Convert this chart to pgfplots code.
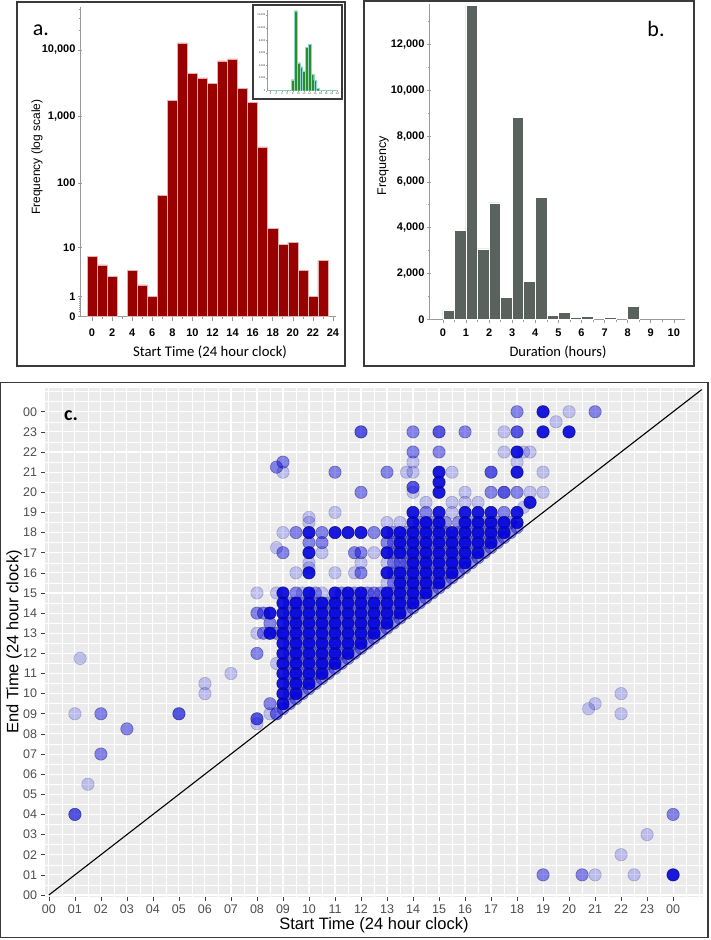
\documentclass[border=0pt]{standalone}
\usepackage{fontspec}
\setmainfont{Liberation Sans}
\newfontfamily\calibri{Carlito}
\usepackage{pgfplots}
\pgfplotsset{compat=1.18}
\usepackage{pgfplotstable}

\definecolor{barred}{HTML}{990000}
\definecolor{bargrey}{HTML}{5A625E}
\definecolor{insetgreen}{HTML}{2E8B2E}
\definecolor{insetedge}{HTML}{8FD8C8}
\definecolor{panelgrey}{HTML}{EBEBEB}
\definecolor{ptblue}{HTML}{0000DD}
\definecolor{ptedge}{HTML}{101060}
\definecolor{ticklab}{HTML}{4D4D4D}
\definecolor{framec}{HTML}{3A3A3A}
\definecolor{axgrey}{HTML}{9A9A9A}

\newcommand{\fs}[1]{\fontsize{#1}{#1}\selectfont}
\pgfplotsset{scaled ticks=false}

% start time histogram (hour 3 has no records)
\pgfplotstableread{
h n
0 7
1 5
2 3
4 4
5 2
6 1
7 65
8 1750
9 12700
10 4450
11 3800
12 3150
13 6850
14 7350
15 2650
16 1650
17 350
18 20
19 11
20 12
21 4
22 1
23 6
}\starttab

% duration histogram (half-hour bins, bin centres)
\pgfplotstableread{
x n
0.25 400
0.75 3870
1.25 13700
1.75 3070
2.25 5080
2.75 970
3.25 8820
3.75 1650
4.25 5330
4.75 170
5.25 290
5.75 70
6.25 110
7.25 80
8.25 560
}\durtab

\begin{document}
\begin{tikzpicture}[x=1pt,y=1pt]
\path[use as bounding box] (0,0) rectangle (710,-940);

% frames
\draw[framec, line width=1.3pt] (17,-2) rectangle (345,-366);
\draw[framec, line width=1.3pt] (364,-1) rectangle (694,-366);
\draw[framec, line width=1.3pt] (0.7,-382.3) rectangle (708,-937.7);

% ---------------- panel a ----------------
\begin{axis}[
  at={(80pt,-7.2pt)}, anchor=north west, scale only axis,
  width=256pt, height=309.5pt,
  xmin=-1.2, xmax=24.3, ymin=0, ymax=4.64,
  axis x line*=bottom, axis y line*=left,
  axis line style={axgrey, line width=0.8pt},
  tick style={axgrey, line width=0.6pt},
  major tick length=4pt, minor tick length=2.5pt,
  xtick align=outside, ytick align=center,
  xtick={0,2,...,24}, minor xtick={1,3,...,23},
  xticklabels={0,2,4,6,8,10,12,14,16,18,20,22,24},
  ytick={0,0.30103,1.04139,2.00432,3.00043,4.00004},
  yticklabels={0,1,10,100,{1,000},{10,000}},
  minor ytick={0.0792,0.1139,0.1461,0.1761,0.2041,0.2304,0.2553,0.2788,4.3010,4.4771,4.6021},
  ticklabel style={font=\bfseries\fs{11pt}, black},
  xticklabel style={yshift=-5pt},
  yticklabel style={xshift=1pt},
]
\addplot[ybar, bar width=1, bar shift=0pt, fill=barred, draw=white!70!barred, line width=0.5pt]
  table[x=h, y expr={log10(\thisrow{n}+1)}] {\starttab};
\end{axis}
\node[rotate=90, font=\fs{12pt}] at (37,-157) {Frequency (log scale)};
\node[font=\calibri\fs{14.7pt}] at (210,-352) {Start Time (24 hour clock)};
\node[font=\calibri\fs{22pt}] at (41,-30) {a.};

% inset
\fill[white] (253,-5) rectangle (342,-99);
\draw[framec, line width=1.2pt] (253,-5) rectangle (342,-99);
\begin{axis}[
  at={(267.3pt,-10pt)}, anchor=north west, scale only axis,
  width=70.9pt, height=80.7pt,
  xmin=-1.2, xmax=24.3, ymin=0, ymax=12800,
  axis x line*=bottom, axis y line*=left,
  x axis line style={insetedge, line width=0.5pt},
  y axis line style={axgrey, line width=0.4pt},
  tick style={axgrey, line width=0.3pt},
  major tick length=1.2pt, tick align=outside,
  xtick={0,2,...,24},
  xticklabels={0,2,4,6,8,10,12,14,16,18,20,22,24},
  ytick={0,2000,...,12000},
  yticklabels={0,{2,000},{4,000},{6,000},{8,000},{10,000},{12,000}},
  ticklabel style={font=\fs{2.6pt}, inner sep=0.6pt, black!80},
]
\addplot[ybar, bar width=1, bar shift=0pt, fill=insetgreen, draw=insetedge, line width=0.25pt]
  table[x=h, y=n] {\starttab};
\end{axis}

% ---------------- panel b ----------------
\begin{axis}[
  at={(429pt,-4.4pt)}, anchor=north west, scale only axis,
  width=256.4pt, height=314.9pt,
  xmin=-0.6, xmax=10.5, ymin=0, ymax=13750,
  axis x line*=bottom, axis y line*=left,
  axis line style={axgrey, line width=0.8pt},
  tick style={axgrey, line width=0.6pt},
  major tick length=4pt, minor tick length=2.5pt,
  xtick align=outside, ytick align=center,
  xtick={0,...,10}, minor xtick={0.5,1.5,...,9.5},
  xticklabels={0,1,2,3,4,5,6,7,8,9,10},
  ytick={0,2000,...,12000},
  yticklabels={0,{2,000},{4,000},{6,000},{8,000},{10,000},{12,000}},
  minor ytick={1000,3000,...,13000},
  ticklabel style={font=\bfseries\fs{11pt}, black},
  xticklabel style={yshift=-2pt},
  yticklabel style={xshift=1pt},
]
\addplot[ybar, bar width=0.5, bar shift=0pt, fill=bargrey, draw=white, line width=0.6pt]
  table[x=x, y=n] {\durtab};
\end{axis}
\node[rotate=90, font=\fs{12.5pt}] at (383,-166) {Frequency};
\node[font=\calibri\fs{14.5pt}] at (558,-352) {Duration (hours)};
\node[font=\calibri\fs{22pt}] at (656,-29) {b.};

% ---------------- panel c ----------------
\begin{axis}[
  at={(45pt,-388pt)}, anchor=north west, scale only axis,
  width=658pt, height=509pt,
  xmin=-0.15, xmax=25.15, ymin=-0.1, ymax=25.18,
  axis background/.style={fill=panelgrey},
  axis line style={draw=none},
  xtick={0,...,24}, ytick={0,...,24},
  xticklabels={00,01,02,03,04,05,06,07,08,09,10,11,12,13,14,15,16,17,18,19,20,21,22,23,00},
  yticklabels={00,01,02,03,04,05,06,07,08,09,10,11,12,13,14,15,16,17,18,19,20,21,22,23,00},
  minor xtick={0.5,1.5,...,24.5,25},
  minor ytick={0.5,1.5,...,24.5,25},
  grid=both,
  major grid style={white, line width=1.1pt},
  minor grid style={white, line width=0.5pt},
  tick align=outside, xtick pos=left, ytick pos=left,
  major tick length=3.5pt, minor tick length=0pt,
  tick style={black!75, line width=0.6pt},
  ticklabel style={ticklab, font=\fs{12.5pt}},
  xticklabel style={yshift=-1pt},
  yticklabel style={xshift=-1pt},
  mark size=6.2pt,
]
% light (single) points
\addplot[only marks, mark=*, mark options={fill=ptblue, draw=ptedge, fill opacity=0.2, draw opacity=0.25, line width=0.6pt}] coordinates {
(1.2,11.75)(1,9)(1.5,5.5)(6,10.5)(6,10)(7,11)(8,8.5)(8.5,9)(8.75,9)(8.75,11.5)(8,13)(8,15)(8.75,15)(9.75,15)(10.5,15)
(9,18)(9,21)(8.75,17.25)(10,18.5)(10,18.75)(11,19)(10,16.5)(10.5,17)(11,16)(11.75,16)(9.5,16)(10,16.25)(12,16.5)(12.5,17)
(13,18.5)(13.5,18.5)(13,15.5)(13,16.5)(14.5,19.5)(15.5,19.5)(16,19.5)(16.5,19.5)(15.5,19)(14,21.5)(14,21)(13.75,21)(15.5,21)(19,21)
(16,20)(19,20)(18.5,20)(18.25,19.25)(17.5,23)(17.5,22)(18.5,22)(18.25,22)(18,21.5)(19.5,23.5)(20,24)(14,20)
(22,10)(22,9)(20.75,9.25)(21,9.5)(21,1)(22.5,1)(22,2)(23,3)
};
% near-diagonal and quarter-hour fill
\addplot[only marks, mark=*, mark options={fill=ptblue, draw=ptedge, fill opacity=0.4, draw opacity=0.4, line width=0.6pt}] coordinates {
(8.75,9)(9,9.25)(9.25,9.5)(9.5,9.75)(9.75,10)(10,10.25)(10.25,10.5)(10.5,10.75)(10.75,11)(11,11.25)(11.25,11.5)(11.5,11.75)
(11.75,12)(12,12.25)(12.25,12.5)(12.5,12.75)(12.75,13)(13,13.25)(13.25,13.5)(13.5,13.75)(13.75,14)(14,14.25)(14.25,14.5)
(14.5,14.75)(14.75,15)(15,15.25)(15.25,15.5)(15.5,15.75)(15.75,16)(16,16.25)(16.25,16.5)(16.5,16.75)(16.75,17)(17,17.25)
(17.25,17.5)(17.5,17.75)(17.75,18)(18,18.25)
(9.25,10)(9.25,10.5)(9.25,11)(9.25,11.5)(9.25,12)(9.25,12.5)(9.25,13)(9.25,13.5)(9.25,14)(9.25,14.5)
(9.75,10.5)(9.75,11)(9.75,11.5)(9.75,12)(9.75,12.5)(9.75,13)(9.75,13.5)(9.75,14)(9.75,14.5)
(10.25,11)(10.25,11.5)(10.25,12)(10.25,12.5)(10.25,13)(10.25,13.5)(10.25,14)(10.25,14.5)(10.25,15)
(10.75,11.5)(10.75,12)(10.75,12.5)(10.75,13)(10.75,13.5)(10.75,14)(10.75,14.5)
(11.25,12)(11.25,12.5)(11.25,13)(11.25,13.5)(11.25,14)(11.25,14.5)(11.25,15)
(11.75,12.5)(11.75,13)(11.75,13.5)(11.75,14)(11.75,14.5)(11.75,15)
(12.25,13)(12.25,13.5)(12.25,14)(12.25,14.5)(12.25,15)
(12.75,13.5)(12.75,14)(12.75,14.5)(12.75,15)
(13.25,14)(13.25,14.5)(13.25,15)(13.25,15.5)(13.25,16)(13.25,16.5)(13.25,17)(13.25,17.5)(13.25,18)
(13.75,14.5)(13.75,15)(13.75,15.5)(13.75,16)(13.75,16.5)(13.75,17)(13.75,17.5)(13.75,18)
(14.25,15)(14.25,15.5)(14.25,16)(14.25,16.5)(14.25,17)(14.25,17.5)(14.25,18)(14.25,18.5)
(14.75,15.5)(14.75,16)(14.75,16.5)(14.75,17)(14.75,17.5)(14.75,18)(14.75,18.5)
(15.25,16)(15.25,16.5)(15.25,17)(15.25,17.5)(15.25,18)(15.25,18.5)
(15.75,16.5)(15.75,17)(15.75,17.5)(15.75,18)(15.75,18.5)
(16.25,17)(16.25,17.5)(16.25,18)(16.25,18.5)
(16.75,17.5)(16.75,18)(16.75,18.5)
(17.25,18)(17.25,18.5)(17.75,18.5)
};
% medium points
\addplot[only marks, mark=*, mark options={fill=ptblue, draw=ptedge, fill opacity=0.45, draw opacity=0.45, line width=0.6pt}] coordinates {
(2,9)(2,7)(3,8.25)(8,12)(8,14)(8.25,13)(8.75,13)(8.5,9.5)(8.75,21.25)(9,21.5)(11,21)(13,21)(12,20)(14,23)(14,22)
(15,22)(16,23)(18,24)(21,24)(9,17)(9.5,18)(10.5,18)(12.5,18)(10,17.5)(10.5,17.5)(13,17.5)(11.75,17)(12,17)(12,16)
(13.5,16.5)(9.5,15)(12.5,15)(17,20)(18,20)(19,1)(20.5,1)(24,4)(14.5,19)(17.5,19)(8.5,13.5)(8.25,14)
};
% medium-dark points
\addplot[only marks, mark=*, mark options={fill=ptblue, draw=ptedge, fill opacity=0.65, draw opacity=0.65, line width=0.6pt}] coordinates {
(1,4)(5,9)(8,8.75)(12,23)(15,23)(18,23)(17,21)(17.5,20)(14,20.25)
};
% dark (frequent) points
\addplot[only marks, mark=*, mark options={fill=ptblue, draw=ptedge, fill opacity=0.9, draw opacity=0.85, line width=0.6pt}] coordinates {
(9,9.5)(9,10)(9,10.5)(9,11)(9,11.5)(9,12)(9,12.5)(9,13)(9,13.5)(9,14)(9,14.5)(9,15)
(9.5,10)(9.5,10.5)(9.5,11)(9.5,11.5)(9.5,12)(9.5,12.5)(9.5,13)(9.5,13.5)(9.5,14)(9.5,14.5)
(10,10.5)(10,11)(10,11.5)(10,12)(10,12.5)(10,13)(10,13.5)(10,14)(10,14.5)(10,15)(10,16)(10,17)(10,18)
(10.5,11)(10.5,11.5)(10.5,12)(10.5,12.5)(10.5,13)(10.5,13.5)(10.5,14)(10.5,14.5)
(11,11.5)(11,12)(11,12.5)(11,13)(11,13.5)(11,14)(11,14.5)(11,15)(11,18)
(11.5,12)(11.5,12.5)(11.5,13)(11.5,13.5)(11.5,14)(11.5,14.5)(11.5,15)(11.5,18)
(12,12.5)(12,13)(12,13.5)(12,14)(12,14.5)(12,15)(12,18)
(12.5,13)(12.5,13.5)(12.5,14)(12.5,14.5)
(13,13.5)(13,14)(13,14.5)(13,15)(13,16)(13,17)(13,18)
(13.5,14)(13.5,14.5)(13.5,15)(13.5,15.5)(13.5,16)(13.5,17)(13.5,17.5)(13.5,18)
(14,14.5)(14,15)(14,15.5)(14,16)(14,16.5)(14,17)(14,17.5)(14,18)(14,18.5)(14,19)
(14.5,15)(14.5,15.5)(14.5,16)(14.5,16.5)(14.5,17)(14.5,17.5)(14.5,18)(14.5,18.5)
(15,15.5)(15,16)(15,16.5)(15,17)(15,17.5)(15,18)(15,18.5)(15,19)
(15.5,16)(15.5,16.5)(15.5,17)(15.5,17.5)(15.5,18)
(16,16.5)(16,17)(16,17.5)(16,18)(16,18.5)(16,19)
(16.5,17)(16.5,17.5)(16.5,18)(16.5,18.5)(16.5,19)
(17,17.5)(17,18)(17,18.5)(17,19)
(17.5,18)(17.5,18.5)
(18,18.5)(18,19)(18.5,19.5)
(19,24)(19,23)(20,23)(18,22)(15,21)(18,21)(15,20.5)(15,20)(24,1)(8.5,14)(8.5,13)
};
\addplot[black, line width=1.1pt, no marks] coordinates {(0,0) (25.1,25.1)};
\end{axis}
\node[font=\fs{16.5pt}] at (374,-925.7) {Start Time (24 hour clock)};
\node[rotate=90, font=\fs{16.5pt}] at (14,-642) {End Time (24 hour clock)};
\node[font=\calibri\bfseries\fs{20pt}] at (71,-416) {c.};
\end{tikzpicture}
\end{document}
